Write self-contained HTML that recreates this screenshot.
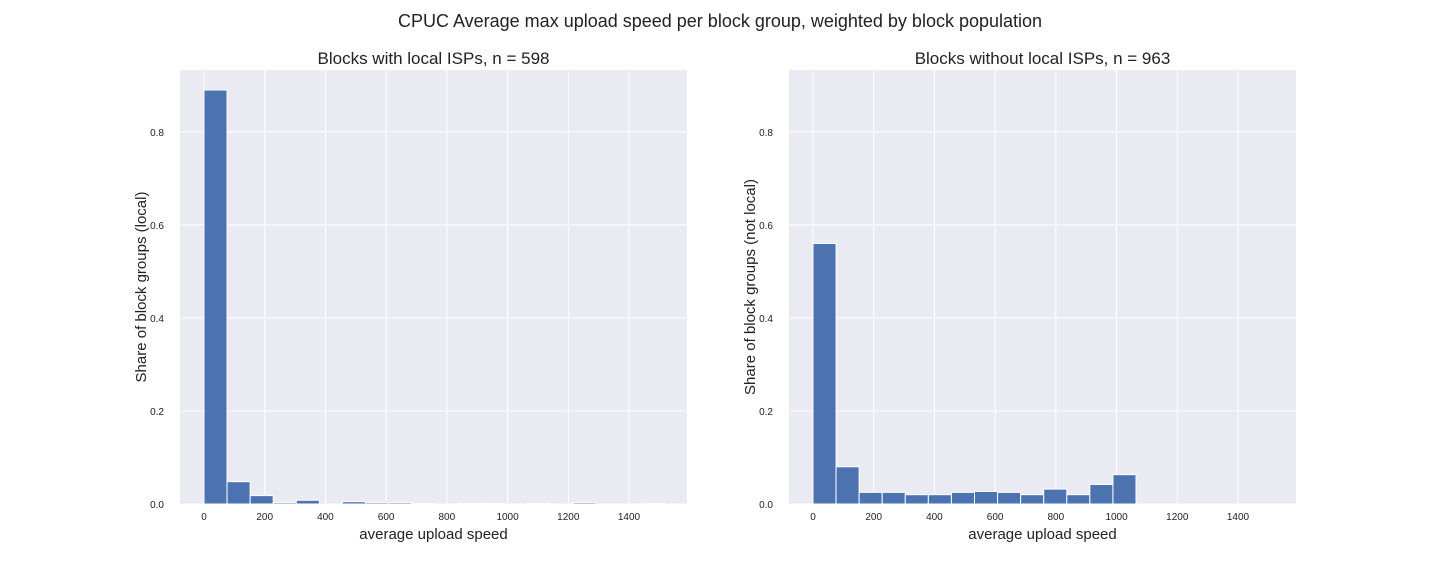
<!DOCTYPE html>
<html><head><meta charset="utf-8"><style>
body{margin:0;background:#fff;font-family:"Liberation Sans",sans-serif}
svg text{font-family:"Liberation Sans",sans-serif;fill:#222}
</style></head><body>
<svg id="c" width="1440" height="576"></svg>
<script>
const binWidth = 76;
const leftValues = [0.89,0.048,0.018,0.003,0.008,0,0.005,0.003,0.003,0.001,0,0.001,0.001,0,0.001,0,0.003,0,0,0.001];
const rightValues = [0.56,0.08,0.025,0.025,0.02,0.02,0.025,0.027,0.025,0.02,0.032,0.02,0.042,0.063];
const xTicks = [0,200,400,600,800,1000,1200,1400];
const yTicks = [0,0.2,0.4,0.6,0.8];
const NS="http://www.w3.org/2000/svg";
const svg=document.getElementById('c');
function mk(t,a,p){const e=document.createElementNS(NS,t);for(const k in a)e.setAttribute(k,a[k]);(p||svg).appendChild(e);return e;}
const t0=mk('text',{x:720,y:27,'text-anchor':'middle','font-size':18});
t0.textContent='CPUC Average max upload speed per block group, weighted by block population';


function panel(x0,x1,vals,title,ylabel,name){
  const top=70,bot=504,xmin=-79,xmax=1591,ymax=0.933;
  const g=mk('g',{});
  
  
  const X=v=>x0+(v-xmin)/(xmax-xmin)*(x1-x0);
  const Y=v=>bot-v/ymax*(bot-top);
  mk('rect',{x:x0,y:top,width:x1-x0,height:bot-top,fill:'#eaeaf2'},g);
  xTicks.forEach(v=>{mk('line',{x1:X(v),x2:X(v),y1:top,y2:bot,stroke:'#fff','stroke-width':1},g);
    const t=mk('text',{x:X(v),y:bot+16,'text-anchor':'middle','font-size':10},g);t.textContent=v;
    });
  yTicks.forEach(v=>{mk('line',{x1:x0,x2:x1,y1:Y(v),y2:Y(v),stroke:'#fff','stroke-width':1},g);
    const t=mk('text',{x:x0-16,y:Y(v)+4,'text-anchor':'end','font-size':10},g);t.textContent=v.toFixed(1);
    });
  vals.forEach((v,i)=>{const r=mk('rect',{x:X(i*binWidth),y:Y(v),width:X((i+1)*binWidth)-X(i*binWidth),height:bot-Y(v),fill:'#4c72b0',stroke:'#fff','stroke-width':1},g);
    });
  const tt=mk('text',{x:(x0+x1)/2,y:64,'text-anchor':'middle','font-size':17},g);tt.textContent=title;
  
  const xl=mk('text',{x:(x0+x1)/2,y:539,'text-anchor':'middle','font-size':15},g);xl.textContent='average upload speed';
  
  const yl=mk('text',{x:0,y:0,'text-anchor':'middle','font-size':15,transform:`translate(${x0-34},${(top+bot)/2}) rotate(-90)`},g);yl.textContent=ylabel;
  
}
panel(180,687,leftValues,'Blocks with local ISPs, n = 598','Share of block groups (local)','left-histogram');
panel(789,1296,rightValues,'Blocks without local ISPs, n = 963','Share of block groups (not local)','right-histogram');
</script>
</body></html>
